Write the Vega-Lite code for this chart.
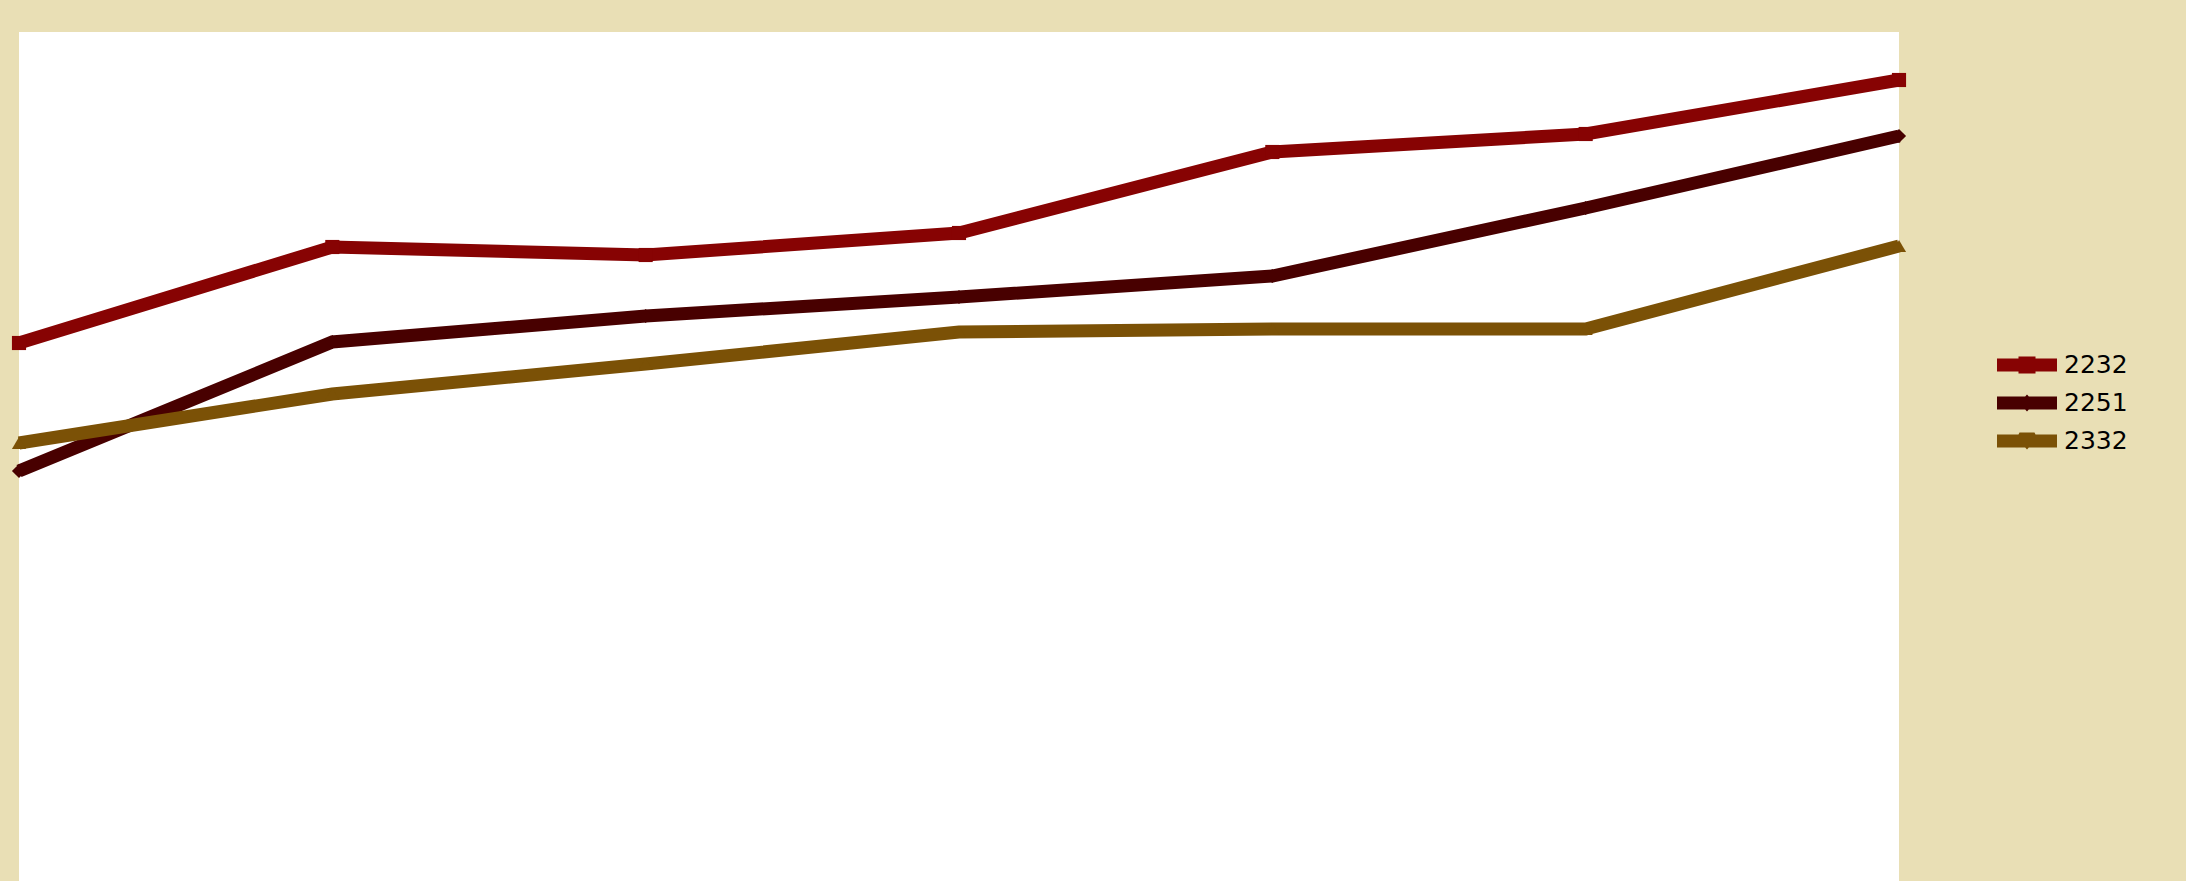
{
  "$schema": "https://vega.github.io/schema/vega-lite/v6.json",
  "width": 1880,
  "height": 849,
  "autosize": "none",
  "padding": {"left": 19, "top": 32, "right": 287, "bottom": 0},
  "background": "#e9dfb5",
  "view": {"fill": "#ffffff", "stroke": null},
  "data": {
    "values": [
      {"step": 1, "series": "2232", "value": 538},
      {"step": 2, "series": "2232", "value": 634},
      {"step": 3, "series": "2232", "value": 626},
      {"step": 4, "series": "2232", "value": 648},
      {"step": 5, "series": "2232", "value": 729},
      {"step": 6, "series": "2232", "value": 747},
      {"step": 7, "series": "2232", "value": 801},
      {"step": 1, "series": "2251", "value": 410},
      {"step": 2, "series": "2251", "value": 539},
      {"step": 3, "series": "2251", "value": 565},
      {"step": 4, "series": "2251", "value": 584},
      {"step": 5, "series": "2251", "value": 605},
      {"step": 6, "series": "2251", "value": 673},
      {"step": 7, "series": "2251", "value": 745},
      {"step": 1, "series": "2332", "value": 438},
      {"step": 2, "series": "2332", "value": 487},
      {"step": 3, "series": "2332", "value": 517},
      {"step": 4, "series": "2332", "value": 549},
      {"step": 5, "series": "2332", "value": 552},
      {"step": 6, "series": "2332", "value": 552},
      {"step": 7, "series": "2332", "value": 635}
    ]
  },
  "encoding": {
    "x": {"field": "step", "type": "quantitative", "scale": {"domain": [1, 7]}, "axis": null},
    "y": {"field": "value", "type": "quantitative", "scale": {"domain": [0, 849], "nice": false, "zero": false}, "axis": null}
  },
  "layer": [
    {
      "mark": {"type": "line", "strokeWidth": 13, "strokeJoin": "miter", "strokeCap": "butt"},
      "encoding": {
        "color": {
          "field": "series",
          "type": "nominal",
          "scale": {"domain": ["2232", "2251", "2332"], "range": ["#870303", "#480000", "#7b5106"]},
          "legend": {
            "title": null,
            "orient": "none",
            "legendX": 1993,
            "legendY": 318,
            "padding": 0,
            "symbolSize": 900,
            "symbolStrokeWidth": 0,
            "symbolOpacity": 1,
            "rowPadding": 10,
            "labelOffset": 22,
            "labelFont": "DejaVu Sans",
            "labelFontSize": 25,
            "labelColor": "#000000",
            "encode": {
              "symbols": {
                "update": {
                  "shape": {"signal": "datum.value === '2232' ? 'M-2,-0.433H-0.567V-0.567H0.567V-0.433H2V0.433H0.567V0.567H-0.567V0.433H-2Z' : datum.value === '2251' ? 'M-2,-0.433H-0.12L0,-0.567L0.12,-0.433H2V0.433H0.12L0,0.567L-0.12,0.433H-2Z' : 'M-2,-0.433H-0.567L-0.5,-0.567H0.5L0.567,-0.433H2V0.433H0.12L0,0.567L-0.12,0.433H-2Z'"},
                  "fill": {"scale": "color", "field": "value"},
                  "fillOpacity": {"value": 1},
                  "strokeWidth": {"value": 0}
                }
              }
            }
          }
        }
      }
    },
    {
      "transform": [{"filter": "datum.series === '2232'"}],
      "mark": {"type": "point", "filled": true, "size": 200, "opacity": 1, "shape": "square", "color": "#870303"}
    },
    {
      "transform": [{"filter": "datum.series === '2251'"}],
      "mark": {"type": "point", "filled": true, "size": 200, "opacity": 1, "shape": "diamond", "color": "#480000"}
    },
    {
      "transform": [{"filter": "datum.series === '2332'"}],
      "mark": {"type": "point", "filled": true, "size": 200, "opacity": 1, "shape": "triangle-up", "color": "#7b5106"}
    }
  ]
}
